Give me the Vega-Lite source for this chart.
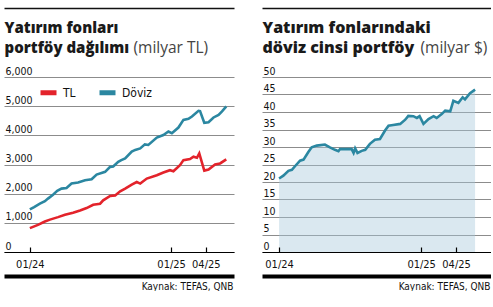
{
  "$schema": "https://vega.github.io/schema/vega-lite/v6.json",
  "padding": {"left": 4, "top": 8, "right": 0, "bottom": 0},
  "background": "white",
  "bounds": "flush",
  "spacing": 28,
  "config": {
    "view": {"stroke": null},
    "font": "Liberation Sans Narrow, DejaVu Sans Condensed, sans-serif",
    "axisY": {
      "orient": "left", "grid": true, "gridColor": "#8c8c8c", "gridWidth": 1,
      "domain": false, "ticks": false,
      "labelAlign": "left", "labelBaseline": "alphabetic", "labelPadding": -1, "labelOffset": -3,
      "labelFontSize": 10.5, "labelColor": "#111", "labelFlush": false,
      "titleAngle": 0, "titleAlign": "left", "titleBaseline": "alphabetic",
      "titleY": -25, "titleFont": "Open Sans", "titleFontSize": 15.5,
      "titleFontWeight": "normal", "titleColor": "#444"
    }
  },
  "datasets": {
    "portfoy": [
      {"date": "2024-01-01", "series": "Döviz", "value": 1460},
      {"date": "2024-01-12", "series": "Döviz", "value": 1540},
      {"date": "2024-01-27", "series": "Döviz", "value": 1656},
      {"date": "2024-02-09", "series": "Döviz", "value": 1740},
      {"date": "2024-02-17", "series": "Döviz", "value": 1830},
      {"date": "2024-03-01", "series": "Döviz", "value": 1966},
      {"date": "2024-03-12", "series": "Döviz", "value": 2100},
      {"date": "2024-03-23", "series": "Döviz", "value": 2173},
      {"date": "2024-04-05", "series": "Döviz", "value": 2197},
      {"date": "2024-04-18", "series": "Döviz", "value": 2346},
      {"date": "2024-05-05", "series": "Döviz", "value": 2380},
      {"date": "2024-05-23", "series": "Döviz", "value": 2460},
      {"date": "2024-06-09", "series": "Döviz", "value": 2494},
      {"date": "2024-06-22", "series": "Döviz", "value": 2656},
      {"date": "2024-07-14", "series": "Döviz", "value": 2749},
      {"date": "2024-07-27", "series": "Döviz", "value": 2920},
      {"date": "2024-08-04", "series": "Döviz", "value": 2930},
      {"date": "2024-08-17", "series": "Döviz", "value": 3094},
      {"date": "2024-08-25", "series": "Döviz", "value": 3150},
      {"date": "2024-09-04", "series": "Döviz", "value": 3208},
      {"date": "2024-09-21", "series": "Döviz", "value": 3440},
      {"date": "2024-09-30", "series": "Döviz", "value": 3500},
      {"date": "2024-10-13", "series": "Döviz", "value": 3553},
      {"date": "2024-10-25", "series": "Döviz", "value": 3691},
      {"date": "2024-11-03", "series": "Döviz", "value": 3670},
      {"date": "2024-11-25", "series": "Döviz", "value": 3922},
      {"date": "2024-12-12", "series": "Döviz", "value": 4012},
      {"date": "2024-12-25", "series": "Döviz", "value": 4130},
      {"date": "2025-01-03", "series": "Döviz", "value": 4071},
      {"date": "2025-01-20", "series": "Döviz", "value": 4268},
      {"date": "2025-02-02", "series": "Döviz", "value": 4530},
      {"date": "2025-02-15", "series": "Döviz", "value": 4564},
      {"date": "2025-02-24", "series": "Döviz", "value": 4647},
      {"date": "2025-03-13", "series": "Döviz", "value": 4840},
      {"date": "2025-03-17", "series": "Döviz", "value": 4830},
      {"date": "2025-03-28", "series": "Döviz", "value": 4430},
      {"date": "2025-04-08", "series": "Döviz", "value": 4450},
      {"date": "2025-04-21", "series": "Döviz", "value": 4613},
      {"date": "2025-05-04", "series": "Döviz", "value": 4702},
      {"date": "2025-05-13", "series": "Döviz", "value": 4820},
      {"date": "2025-05-24", "series": "Döviz", "value": 4990},
      {"date": "2024-01-01", "series": "TL", "value": 817},
      {"date": "2024-01-22", "series": "TL", "value": 931},
      {"date": "2024-02-09", "series": "TL", "value": 1045},
      {"date": "2024-02-22", "series": "TL", "value": 1110},
      {"date": "2024-03-14", "series": "TL", "value": 1196},
      {"date": "2024-04-01", "series": "TL", "value": 1276},
      {"date": "2024-04-22", "series": "TL", "value": 1345},
      {"date": "2024-05-10", "series": "TL", "value": 1425},
      {"date": "2024-05-27", "series": "TL", "value": 1507},
      {"date": "2024-06-13", "series": "TL", "value": 1621},
      {"date": "2024-07-01", "series": "TL", "value": 1656},
      {"date": "2024-07-09", "series": "TL", "value": 1770},
      {"date": "2024-07-27", "series": "TL", "value": 1921},
      {"date": "2024-08-09", "series": "TL", "value": 1940},
      {"date": "2024-08-22", "series": "TL", "value": 2080},
      {"date": "2024-09-04", "series": "TL", "value": 2173},
      {"date": "2024-09-21", "series": "TL", "value": 2311},
      {"date": "2024-10-04", "series": "TL", "value": 2400},
      {"date": "2024-10-13", "series": "TL", "value": 2346},
      {"date": "2024-10-30", "series": "TL", "value": 2518},
      {"date": "2024-11-25", "series": "TL", "value": 2632},
      {"date": "2024-12-12", "series": "TL", "value": 2725},
      {"date": "2024-12-29", "series": "TL", "value": 2805},
      {"date": "2025-01-07", "series": "TL", "value": 2770},
      {"date": "2025-01-24", "series": "TL", "value": 2977},
      {"date": "2025-02-02", "series": "TL", "value": 3150},
      {"date": "2025-02-19", "series": "TL", "value": 3184},
      {"date": "2025-02-28", "series": "TL", "value": 3266},
      {"date": "2025-03-09", "series": "TL", "value": 3230},
      {"date": "2025-03-15", "series": "TL", "value": 3381},
      {"date": "2025-03-28", "series": "TL", "value": 2790},
      {"date": "2025-04-08", "series": "TL", "value": 2830},
      {"date": "2025-04-25", "series": "TL", "value": 3001},
      {"date": "2025-05-08", "series": "TL", "value": 3036},
      {"date": "2025-05-24", "series": "TL", "value": 3174}
    ],
    "doviz": [
      {"date": "2024-01-01", "value": 21.0},
      {"date": "2024-01-12", "value": 21.8},
      {"date": "2024-01-25", "value": 23.2},
      {"date": "2024-02-03", "value": 23.5},
      {"date": "2024-02-11", "value": 24.5},
      {"date": "2024-02-24", "value": 26.1},
      {"date": "2024-03-04", "value": 26.4},
      {"date": "2024-03-16", "value": 28.5},
      {"date": "2024-03-25", "value": 29.9},
      {"date": "2024-04-07", "value": 30.4},
      {"date": "2024-04-28", "value": 30.7},
      {"date": "2024-05-11", "value": 29.9},
      {"date": "2024-05-24", "value": 29.2},
      {"date": "2024-06-02", "value": 28.8},
      {"date": "2024-06-06", "value": 29.4},
      {"date": "2024-07-06", "value": 29.4},
      {"date": "2024-07-11", "value": 28.3},
      {"date": "2024-07-15", "value": 29.6},
      {"date": "2024-07-21", "value": 28.3},
      {"date": "2024-08-01", "value": 28.9},
      {"date": "2024-08-10", "value": 29.2},
      {"date": "2024-08-22", "value": 30.9},
      {"date": "2024-09-04", "value": 32.1},
      {"date": "2024-09-17", "value": 32.3},
      {"date": "2024-09-30", "value": 34.7},
      {"date": "2024-10-09", "value": 36.1},
      {"date": "2024-10-21", "value": 36.3},
      {"date": "2024-11-08", "value": 36.6},
      {"date": "2024-11-21", "value": 37.8},
      {"date": "2024-11-29", "value": 38.9},
      {"date": "2024-12-12", "value": 38.8},
      {"date": "2024-12-21", "value": 38.3},
      {"date": "2024-12-28", "value": 38.8},
      {"date": "2025-01-07", "value": 36.6},
      {"date": "2025-01-20", "value": 38.0},
      {"date": "2025-02-02", "value": 38.8},
      {"date": "2025-02-10", "value": 38.3},
      {"date": "2025-02-23", "value": 39.4},
      {"date": "2025-03-04", "value": 40.4},
      {"date": "2025-03-17", "value": 40.2},
      {"date": "2025-03-25", "value": 43.2},
      {"date": "2025-04-07", "value": 42.6},
      {"date": "2025-04-18", "value": 44.2},
      {"date": "2025-04-24", "value": 43.6},
      {"date": "2025-05-07", "value": 45.4},
      {"date": "2025-05-20", "value": 46.4}
    ]
  },
  "hconcat": [
    {
      "width": 230,
      "height": 175,
      "data": {"name": "portfoy"},
      "resolve": {"axis": {"x": "independent"}},
      "layer": [
        {
          "mark": {"type": "line", "strokeWidth": 2.6},
          "encoding": {
            "x": {
              "field": "date", "type": "temporal",
              "scale": {"domain": [{"year": 2023, "month": 10, "date": 26}, {"year": 2025, "month": 6, "date": 13}]},
              "axis": {
                "orient": "bottom",
                "values": [{"year": 2024, "month": 1, "date": 1}, {"year": 2025, "month": 1, "date": 1}, {"year": 2025, "month": 4, "date": 1}],
                "format": "%m/%y", "title": null, "grid": false,
                "domain": true, "domainColor": "#000", "domainWidth": 1.2,
                "ticks": true, "tickColor": "#000", "tickSize": -5, "tickWidth": 1.2,
                "labelPadding": 11, "labelFontSize": 11, "labelColor": "#111",
                "labelFlush": false, "labelOverlap": false, "zindex": 1
              }
            },
            "y": {
              "field": "value", "type": "quantitative",
              "scale": {"domain": [0, 6000]},
              "axis": {"values": [0, 1000, 2000, 3000, 4000, 5000, 6000], "format": ",.0f", "title": "(milyar TL)", "titleX": 129}
            },
            "color": {
              "field": "series", "type": "nominal",
              "scale": {"domain": ["TL", "Döviz"], "range": ["#e3232b", "#2b87a1"]},
              "legend": {
                "orient": "none", "legendX": 34, "legendY": 5, "direction": "horizontal",
                "title": null, "symbolType": "stroke", "symbolStrokeWidth": 5, "symbolSize": 256,
                "labelFontSize": 12, "labelColor": "#111", "columnPadding": 13, "labelOffset": 4
              }
            }
          }
        },
        {
          "mark": {"type": "line", "opacity": 0},
          "encoding": {
            "x": {
              "field": "date", "type": "temporal",
              "axis": {
                "orient": "top", "offset": 69, "labels": false, "ticks": false, "grid": false,
                "domain": true, "domainColor": "#111", "domainWidth": 1.5,
                "title": ["Yatırım fonları", "portföy dağılımı"],
                "titleFont": "Open Sans", "titleFontSize": 15, "titleFontWeight": 800, "titleColor": "#1a1a1a",
                "titleAlign": "left", "titleBaseline": "alphabetic", "titleX": 0, "titleY": 24, "titleLineHeight": 20
              }
            },
            "y": {
              "field": "value", "type": "quantitative",
              "axis": {"values": [0, 1000, 2000, 3000, 4000, 5000, 6000], "format": ",.0f", "title": "(milyar TL)", "titleX": 129}
            },
            "detail": {"field": "series"}
          }
        },
        {
          "mark": {"type": "line", "opacity": 0},
          "encoding": {
            "x": {
              "field": "date", "type": "temporal",
              "axis": {
                "orient": "bottom", "offset": 24, "labels": false, "ticks": false, "grid": false,
                "domain": true, "domainColor": "#000", "domainWidth": 4,
                "title": "Kaynak: TEFAS, QNB", "titleFontSize": 10, "titleFontWeight": "normal", "titleColor": "#111",
                "titleAlign": "right", "titleBaseline": "alphabetic", "titleX": 229, "titleY": 13
              }
            },
            "y": {
              "field": "value", "type": "quantitative",
              "axis": {"values": [0, 1000, 2000, 3000, 4000, 5000, 6000], "format": ",.0f", "title": "(milyar TL)", "titleX": 129}
            },
            "detail": {"field": "series"}
          }
        }
      ]
    },
    {
      "width": 229,
      "height": 175,
      "data": {"name": "doviz"},
      "resolve": {"axis": {"x": "independent"}},
      "layer": [
        {
          "mark": {"type": "area", "color": "#a7c9dc", "fillOpacity": 0.42},
          "encoding": {
            "x": {
              "field": "date", "type": "temporal",
              "scale": {"domain": [{"year": 2023, "month": 11, "date": 18}, {"year": 2025, "month": 6, "date": 30}]},
              "axis": {
                "orient": "bottom",
                "values": [{"year": 2024, "month": 1, "date": 1}, {"year": 2025, "month": 1, "date": 1}, {"year": 2025, "month": 4, "date": 1}],
                "format": "%m/%y", "title": null, "grid": false,
                "domain": true, "domainColor": "#000", "domainWidth": 1.2,
                "ticks": true, "tickColor": "#000", "tickSize": -5, "tickWidth": 1.2,
                "labelPadding": 11, "labelFontSize": 11, "labelColor": "#111",
                "labelFlush": false, "labelOverlap": false, "zindex": 1
              }
            },
            "y": {
              "field": "value", "type": "quantitative",
              "scale": {"domain": [0, 50]},
              "axis": {"values": [0, 5, 10, 15, 20, 25, 30, 35, 40, 45, 50], "format": "d", "title": "(milyar $)", "titleX": 158}
            }
          }
        },
        {
          "mark": {"type": "line", "color": "#2b87a1", "strokeWidth": 2.6},
          "encoding": {
            "x": {
              "field": "date", "type": "temporal",
              "axis": {
                "orient": "top", "offset": 69, "labels": false, "ticks": false, "grid": false,
                "domain": true, "domainColor": "#111", "domainWidth": 1.5,
                "title": ["Yatırım fonlarındaki", "döviz cinsi portföy"],
                "titleFont": "Open Sans", "titleFontSize": 16, "titleFontWeight": 800, "titleColor": "#1a1a1a",
                "titleAlign": "left", "titleBaseline": "alphabetic", "titleX": 0, "titleY": 24, "titleLineHeight": 20
              }
            },
            "y": {
              "field": "value", "type": "quantitative",
              "axis": {"values": [0, 5, 10, 15, 20, 25, 30, 35, 40, 45, 50], "format": "d", "title": "(milyar $)", "titleX": 158}
            }
          }
        },
        {
          "mark": {"type": "line", "opacity": 0},
          "encoding": {
            "x": {
              "field": "date", "type": "temporal",
              "axis": {
                "orient": "bottom", "offset": 24, "labels": false, "ticks": false, "grid": false,
                "domain": true, "domainColor": "#000", "domainWidth": 4,
                "title": "Kaynak: TEFAS, QNB", "titleFontSize": 10, "titleFontWeight": "normal", "titleColor": "#111",
                "titleAlign": "right", "titleBaseline": "alphabetic", "titleX": 228, "titleY": 13
              }
            },
            "y": {
              "field": "value", "type": "quantitative",
              "axis": {"values": [0, 5, 10, 15, 20, 25, 30, 35, 40, 45, 50], "format": "d", "title": "(milyar $)", "titleX": 158}
            }
          }
        }
      ]
    }
  ]
}
